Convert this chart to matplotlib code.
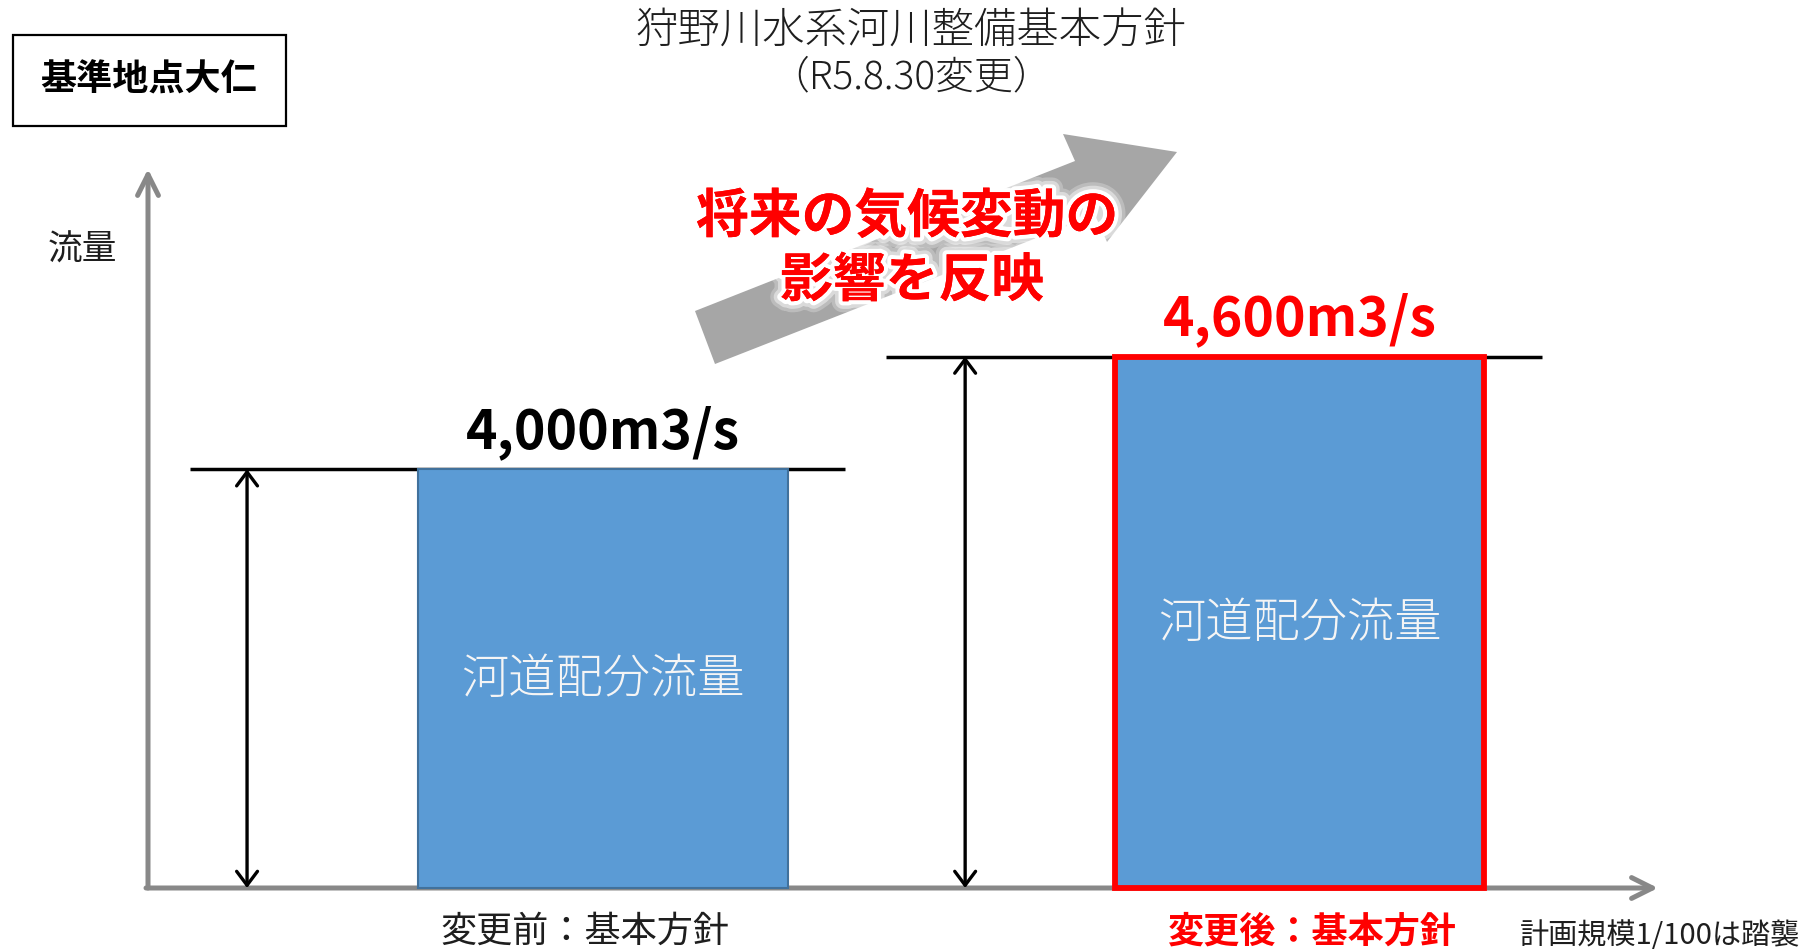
import matplotlib
matplotlib.use("Agg")
import matplotlib.pyplot as plt
from matplotlib.patches import FancyArrowPatch, Polygon, Rectangle
import matplotlib.patheffects as pe

plt.rcParams['font.family'] = ['Noto Sans CJK JP', 'DejaVu Sans']

# ---- data -------------------------------------------------------------
categories = ['変更前：基本方針', '変更後：基本方針']
flows = [4000, 4600]                      # m3/s at 基準地点大仁
bar_text = '河道配分流量'
title = '狩野川水系河川整備基本方針'
subtitle = '（R5.8.30変更）'
station = '基準地点大仁'
y_label = '流量'
note = '計画規模1/100は踏襲'
climate_lines = ['将来の気候変動の', '影響を反映']

# ---- layout / style ---------------------------------------------------
W, H = 1819, 953
DPI = 100
FLOOR = 1770                  # value at the origin of the schematic axis
BLUE = '#5B9BD5'
GRAY = '#888888'
RED = '#FF0000'
INK = '#1E1E1E'

fig = plt.figure(figsize=(W / DPI, H / DPI), dpi=DPI)
fig.patch.set_facecolor('white')

# data axes: bars placed at 0 and 1
ax = fig.add_axes([0, 0, 1, 1])
ax.set_xlim(-0.8657, 1.7459)
ax.set_ylim(1429.2, 6503.8)
ax.axis('off')

# pixel canvas for decorations
cv = fig.add_axes([0, 0, 1, 1], zorder=-1)
cv.set_xlim(0, W)
cv.set_ylim(H, 0)
cv.axis('off')

xs = list(range(len(flows)))
bar_w = 0.531

bars = ax.bar(xs, [v - FLOOR for v in flows], bottom=FLOOR, width=bar_w,
              color=BLUE, zorder=3)
bars[0].set_edgecolor('#41719C')
bars[0].set_linewidth(1.5)
bars[1].set_edgecolor(RED)
bars[1].set_linewidth(4.2)
bars[1].set_zorder(4)

dim_offsets = [-0.511, -0.480]
for i, v in enumerate(flows):
    # level line
    ax.plot([i - 0.593, i + 0.348], [v, v], color='black', lw=2.5,
            solid_capstyle='butt', zorder=2)
    # dimension arrow
    ax.add_patch(FancyArrowPatch((i + dim_offsets[i], FLOOR), (i + dim_offsets[i], v),
                                 arrowstyle='<->,head_length=10,head_width=7.5',
                                 mutation_scale=1, lw=2.4, color='black',
                                 shrinkA=0, shrinkB=0, zorder=2))
    # value label
    is_new = i == len(flows) - 1
    ax.annotate(f'{v:,}m3/s', xy=(i, v), xytext=(0, 16), textcoords='offset points',
                ha='center', va='baseline', fontsize=38.5, fontweight='bold',
                color=RED if is_new else 'black', zorder=5)
    # text inside bar
    ax.text(i, (v + FLOOR) / 2, bar_text, ha='center', va='center',
            fontsize=34, color='#F5F5F5', fontweight='light', zorder=5)

# category labels under the axis
cat_dx = [-13, 9]
for i, c in enumerate(categories):
    is_new = i == len(categories) - 1
    ax.annotate(c, xy=(i, FLOOR), xytext=(cat_dx[i], -31), textcoords='offset points',
                ha='center', va='center', fontsize=26,
                fontweight='bold' if is_new else 'normal',
                color=RED if is_new else INK)

# axes arrows
for p0, p1 in [((148, 889), (148, 170)), ((146, 889), (1658, 889))]:
    cv.add_patch(FancyArrowPatch(p0, p1, arrowstyle='->,head_length=15,head_width=7.5',
                                 mutation_scale=1, lw=3.6, color=GRAY,
                                 capstyle='round', joinstyle='round',
                                 shrinkA=0, shrinkB=0, zorder=1))

# titles
cv.text(911, 31, title, ha='center', va='center', fontsize=30.5,
        fontweight='light', color=INK)
cv.text(911, 78, subtitle, ha='center', va='center', fontsize=28,
        fontweight='light', color=INK)

# station box
cv.add_patch(Rectangle((13, 36), 273, 91, fill=False, ec='black', lw=1.6))
cv.text(149, 80, station, ha='center', va='center', fontsize=26,
        fontweight='bold', color='black')

cv.text(82, 250, y_label, ha='center', va='center', fontsize=25, color=INK)

cv.text(1660, 936, note, ha='center', va='center', fontsize=21, color=INK)

# trend arrow
arrow_pts = [(695, 312), (1075, 162), (1063, 135), (1177, 153),
             (1107, 243), (1095, 216), (715, 365)]
ax.add_patch(Polygon(arrow_pts, closed=True, fc='#A6A6A6', ec='none', zorder=1,
                     transform=cv.transData))

glow = [pe.withStroke(linewidth=16, foreground=(1, 1, 1, 0.25)),
        pe.withStroke(linewidth=11, foreground=(1, 1, 1, 0.45)),
        pe.withStroke(linewidth=6, foreground='white'),
        pe.Normal()]
for (x, y), line in zip([(907, 218), (912, 282)], climate_lines):
    ax.text(x, y, line, transform=cv.transData, ha='center', va='center',
            fontsize=38, fontweight='bold', color=RED, path_effects=glow, zorder=6)

fig.savefig('out.png', dpi=DPI, facecolor='white')
